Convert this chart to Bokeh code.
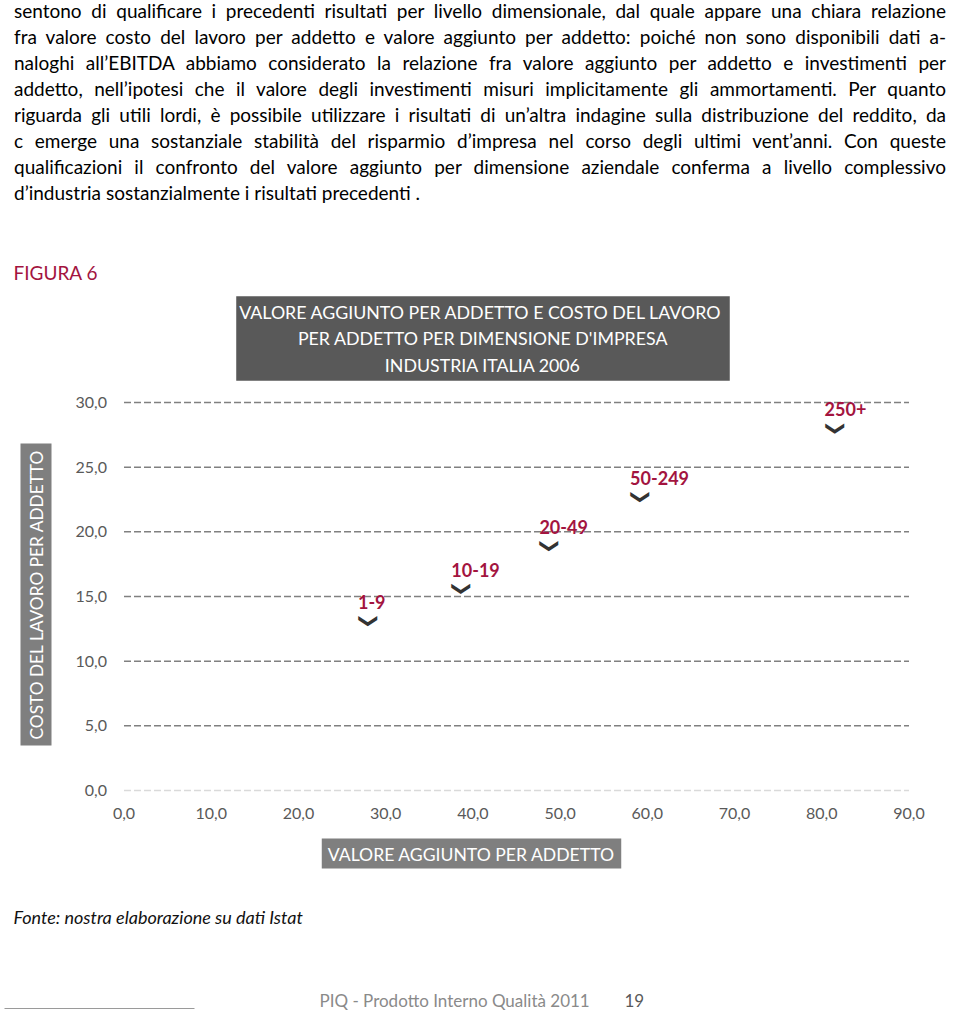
import math
from bokeh.plotting import figure
from bokeh.models import Div, Label, FixedTicker, Arrow, ColumnDataSource
from bokeh.layouts import column
from bokeh.embed import file_html
from bokeh.resources import INLINE
from bokeh.core.properties import value

# ---------------- data ----------------
categories = ["1-9", "10-19", "20-49", "50-249", "250+"]
valore_aggiunto = [28.2, 38.9, 49.0, 59.4, 81.7]      # x: valore aggiunto per addetto
costo_lavoro = [13.1, 15.6, 18.9, 22.7, 28.0]         # y: costo del lavoro per addetto

x_ticks = [0, 10, 20, 30, 40, 50, 60, 70, 80, 90]
x_tick_labels = ["0,0", "10,0", "20,0", "30,0", "40,0", "50,0", "60,0", "70,0", "80,0", "90,0"]
y_ticks = [0, 5, 10, 15, 20, 25, 30]
y_tick_labels = ["0,0", "5,0", "10,0", "15,0", "20,0", "25,0", "30,0"]

paragraph_lines = [
    "sentono di qualificare i precedenti risultati per livello dimensionale, dal quale appare una chiara relazione",
    "fra valore costo del lavoro per addetto e valore aggiunto per addetto: poiché non sono disponibili dati a-",
    "naloghi all\u2019EBITDA abbiamo considerato la relazione fra valore aggiunto per addetto e investimenti per",
    "addetto, nell\u2019ipotesi che il valore degli investimenti misuri implicitamente gli ammortamenti. Per quanto",
    "riguarda gli utili lordi, è possibile utilizzare i risultati di un\u2019altra indagine sulla distribuzione del reddito, da",
    "c emerge una sostanziale stabilità del risparmio d\u2019impresa nel corso degli ultimi vent\u2019anni. Con queste",
    "qualificazioni il confronto del valore aggiunto per dimensione aziendale conferma a livello complessivo",
    "d\u2019industria sostanzialmente i risultati precedenti .",
]

chart_title = "VALORE AGGIUNTO PER ADDETTO  E COSTO DEL LAVORO\nPER ADDETTO PER DIMENSIONE D'IMPRESA\nINDUSTRIA ITALIA 2006"
y_title = "COSTO DEL LAVORO PER ADDETTO"
x_title = "VALORE AGGIUNTO PER ADDETTO"
figure_label = "FIGURA 6"
source_note = "Fonte: nostra elaborazione su dati Istat"
footer_text = "PIQ - Prodotto Interno Qualità 2011"
page_number = "19"

FONT = "Lato"
CRIMSON = "#A3143F"

# ---------------- paragraph ----------------
n = len(paragraph_lines)
rows = "".join(
    '<div style="text-align:justify;text-align-last:%s;white-space:nowrap;">%s</div>'
    % ("justify" if i < n - 1 else "left", line)
    for i, line in enumerate(paragraph_lines)
)
html = (
    '<div style="font-family:Lato;font-size:19px;line-height:26px;color:#000;'
    'width:932px;margin-left:9px;margin-top:-7px;">' + rows + "</div>"
)
DIV_H = 214
div = Div(text=html, width=944, height=DIV_H)

# ---------------- geometry (page pixels) ----------------
FIG_W, FIG_H = 944, 789
CANVAS_X0, CANVAS_Y0 = 1, 224          # page position of the figure canvas
X0_PAGE, X90_PAGE = 124.5, 909.5       # page x of x=0 and x=90
Y0_PAGE, Y30_PAGE = 790.0, 402.0       # page y of y=0 and y=30
SX = (X90_PAGE - X0_PAGE) / 90.0
SY = (Y0_PAGE - Y30_PAGE) / 30.0

def dx(px):
    return (px - X0_PAGE) / SX

def dy(py):
    return (Y0_PAGE - py) / SY

p = figure(
    width=FIG_W, height=FIG_H,
    x_range=(dx(CANVAS_X0), dx(CANVAS_X0 + FIG_W)),
    y_range=(dy(CANVAS_Y0 + FIG_H), dy(CANVAS_Y0)),
    output_backend="svg", toolbar_location=None, title=None,
    min_border=0,
)
p.outline_line_color = None
p.background_fill_color = "white"
p.border_fill_color = "white"
p.xgrid.visible = False
p.ygrid.visible = False

p.xaxis.ticker = FixedTicker(ticks=x_ticks)
p.xaxis.major_label_overrides = dict(zip(x_ticks, x_tick_labels))
p.yaxis.ticker = FixedTicker(ticks=y_ticks)
p.yaxis.major_label_overrides = dict(zip(y_ticks, y_tick_labels))
p.xaxis.fixed_location = 0
p.yaxis.fixed_location = 0
for ax in (p.xaxis[0], p.yaxis[0]):
    ax.axis_line_color = None
    ax.major_tick_line_color = None
    ax.minor_tick_line_color = None
    ax.major_tick_out = 0
    ax.major_tick_in = 0
    ax.major_label_text_font = FONT
    ax.major_label_text_font_size = "16px"
    ax.major_label_text_color = "#595959"
p.yaxis.major_label_standoff = 17
p.xaxis.major_label_standoff = 17

# dashed horizontal gridlines at the y ticks, spanning the x tick range
grid_src = ColumnDataSource(dict(y=y_ticks[1:]))
p.segment(x0=x_ticks[0], x1=x_ticks[-1], y0="y", y1="y", source=grid_src,
          line_color="#808080", line_dash="7 3", line_width=1.5)
p.segment(x0=x_ticks[0], x1=x_ticks[-1], y0=y_ticks[0], y1=y_ticks[0],
          line_color="#dadada", line_dash="7 3", line_width=1.5)

src = ColumnDataSource(dict(x=valore_aggiunto, y=costo_lavoro, cat=categories))
p.text(x="x", y="y", text=value("\u276F"), source=src, angle=-math.pi / 2,
       text_align="center", text_baseline="middle",
       text_font=value("DejaVu Sans"), text_font_style="bold",
       text_font_size="19px", text_color="#333333")
p.text(x="x", y="y", text="cat", source=src, x_offset=-12, y_offset=-19,
       text_align="left", text_baseline="middle",
       text_font=value(FONT), text_font_style="bold",
       text_font_size="18px", text_color=CRIMSON)

p.add_layout(Label(x=dx(483.5), y=dy(338), text=chart_title, text_align="center",
                   text_baseline="middle", text_font=FONT, text_font_size="17.8px",
                   text_color="white", text_line_height=1.19,
                   background_fill_color="#595959",
                   padding=dict(left=3, right=3, top=5, bottom=5)))
p.add_layout(Label(x=dx(36.5), y=dy(594), text=y_title, angle=math.pi / 2,
                   text_align="center", text_baseline="middle", text_font=FONT,
                   text_font_size="17.3px", text_color="white",
                   background_fill_color="#7f7f7f",
                   padding=dict(left=6, right=6, top=5, bottom=5)))
p.add_layout(Label(x=dx(472), y=dy(853), text=x_title, text_align="center",
                   text_baseline="middle", text_font=FONT, text_font_size="17.6px",
                   text_color="white", background_fill_color="#7f7f7f",
                   padding=dict(left=6, right=6, top=5, bottom=4)))
p.add_layout(Label(x=dx(14), y=dy(272), text=figure_label, text_align="left",
                   text_baseline="middle", text_font=FONT, text_font_size="19px",
                   text_color=CRIMSON))
p.add_layout(Label(x=dx(14), y=dy(916), text=source_note, text_align="left",
                   text_baseline="middle", text_font=FONT, text_font_size="18px",
                   text_font_style="italic", text_color="#111111"))
p.add_layout(Label(x=dx(320), y=dy(1000), text=footer_text, text_align="left",
                   text_baseline="middle", text_font=FONT, text_font_size="17px",
                   text_color="#8a8a8a"))
p.add_layout(Label(x=dx(625), y=dy(1000), text=page_number, text_align="left",
                   text_baseline="middle", text_font=FONT, text_font_size="17px",
                   text_color="#595959"))
p.add_layout(Arrow(x_start=dx(5), y_start=dy(1008), x_end=dx(195), y_end=dy(1008),
                   end=None, line_color="#9a9a9a", line_width=1))

layout = column(div, p, spacing=0)
open("out.html", "w").write(file_html(layout, INLINE))
